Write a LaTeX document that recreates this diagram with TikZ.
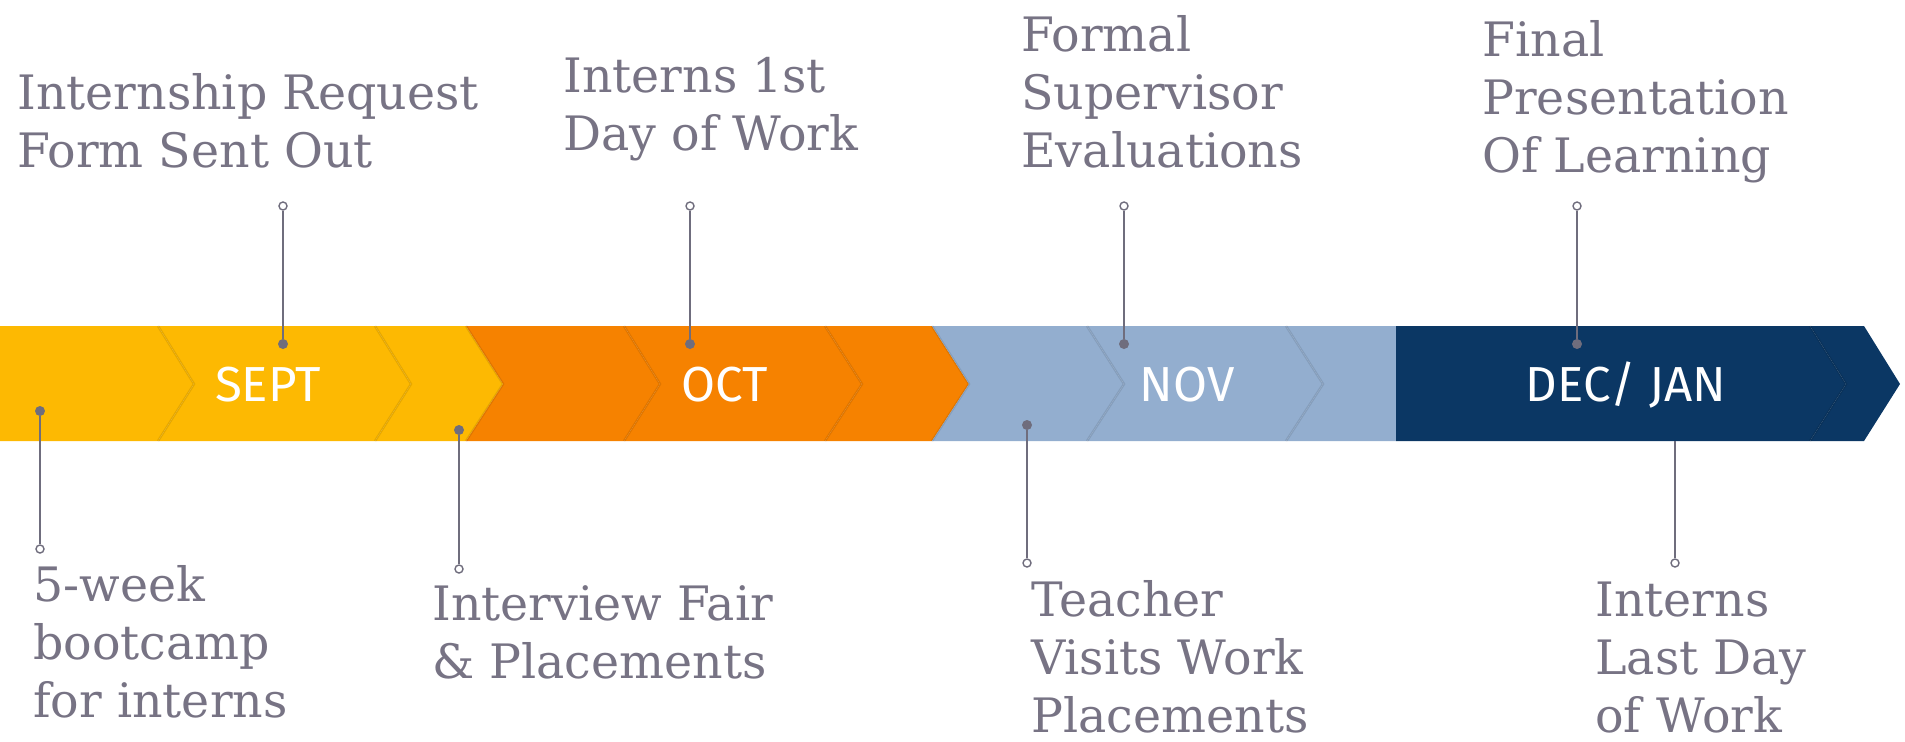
\documentclass[tikz,border=0pt]{standalone}
\usepackage{fontspec}
\setmainfont{DejaVu Serif}
\newfontfamily\monthfont{Fira Sans}
\usetikzlibrary{positioning}

\definecolor{gold}{HTML}{FDB902}
\definecolor{tangerine}{HTML}{F68200}
\definecolor{skyblue}{HTML}{93AECF}
\definecolor{navy}{HTML}{0B3764}
\definecolor{slate}{HTML}{777384}
\definecolor{pin}{HTML}{6F6D7D}

\tikzstyle{month} = [text=white,font=\monthfont\fontsize{28}{30}\selectfont,inner sep=0pt]
\tikzstyle{event} = [text=slate,font=\fontsize{27}{33}\selectfont,align=left,inner sep=0pt]
\tikzstyle{stem} = [draw=pin,line width=1.1pt]
\tikzstyle{dot} = [circle,fill=pin,inner sep=0pt,minimum size=0.2cm]
\tikzstyle{ring} = [circle,draw=pin,fill=white,line width=0.8pt,inner sep=0pt,minimum size=0.16cm]
\tikzstyle{notch} = [draw=black,draw opacity=0.09,line width=1.4pt]

\begin{document}
\begin{tikzpicture}[x=0.02cm,y=-0.02cm]
	\useasboundingbox (0,0) rectangle (1905,741);

	% yellow
	\fill[gold] (0,326) -- (158,326) -- (194,384) -- (158,441) -- (0,441) -- cycle;
	\fill[gold] (158,326) -- (375,326) -- (411,384) -- (375,441) -- (158,441) -- (194,384) -- cycle;
	\fill[gold] (375,326) -- (466,326) -- (503,384) -- (466,441) -- (375,441) -- (411,384) -- cycle;
	\draw[notch] (158,326) -- (194,384) -- (158,441);
	\draw[notch] (375,326) -- (411,384) -- (375,441);

	% orange
	\fill[tangerine] (466,326) -- (624,326) -- (660,384) -- (624,441) -- (466,441) -- (503,384) -- cycle;
	\fill[tangerine] (624,326) -- (825,326) -- (862,384) -- (825,441) -- (624,441) -- (660,384) -- cycle;
	\fill[tangerine] (825,326) -- (932,326) -- (969,384) -- (932,441) -- (825,441) -- (862,384) -- cycle;
	\draw[notch] (466,326) -- (503,384) -- (466,441);
	\draw[notch] (624,326) -- (660,384) -- (624,441);
	\draw[notch] (825,326) -- (862,384) -- (825,441);

	% light blue
	\fill[skyblue] (932,326) -- (1087,326) -- (1124,384) -- (1087,441) -- (932,441) -- (969,384) -- cycle;
	\fill[skyblue] (1087,326) -- (1286,326) -- (1323,384) -- (1286,441) -- (1087,441) -- (1124,384) -- cycle;
	\fill[skyblue] (1286,326) -- (1396,326) -- (1396,441) -- (1286,441) -- (1323,384) -- cycle;
	\draw[notch] (932,326) -- (969,384) -- (932,441);
	\draw[notch] (1087,326) -- (1124,384) -- (1087,441);
	\draw[notch] (1286,326) -- (1323,384) -- (1286,441);

	% navy
	\fill[navy] (1396,326) -- (1810,326) -- (1846,384) -- (1810,441) -- (1396,441) -- cycle;
	\fill[navy] (1810,326) -- (1864,326) -- (1900,384) -- (1864,441) -- (1810,441) -- (1846,384) -- cycle;
	\draw[notch] (1810,326) -- (1846,384) -- (1810,441);

	% months
	\node[month,anchor=base] (sept) at (268,401) {SEPT};
	\node[month,anchor=base] (oct) at (725,401) {OCT};
	\node[month,anchor=base] (nov) at (1187,401) {NOV};
	\node[month,anchor=base] (decjan) at (1626,401) {DEC/ JAN};

	% pins above
	\node[dot] (d2) at (283,344) {};
	\node[ring] (r2) at (283,206) {};
	\draw[stem] (d2) -- (r2);
	\node[dot] (d3) at (690,344) {};
	\node[ring] (r3) at (690,206) {};
	\draw[stem] (d3) -- (r3);
	\node[dot] (d5) at (1124,344) {};
	\node[ring] (r5) at (1124,206) {};
	\draw[stem] (d5) -- (r5);
	\node[dot] (d7) at (1577,344) {};
	\node[ring] (r7) at (1577,206) {};
	\draw[stem] (d7) -- (r7);

	% pins below
	\node[dot] (d1) at (40,411) {};
	\node[ring] (r1) at (40,549) {};
	\draw[stem] (d1) -- (r1);
	\node[dot] (d4) at (459,430) {};
	\node[ring] (r4) at (459,569) {};
	\draw[stem] (d4) -- (r4);
	\node[dot] (d6) at (1027,425) {};
	\node[ring] (r6) at (1027,563) {};
	\draw[stem] (d6) -- (r6);
	\coordinate (d8) at (1675,441);
	\node[ring] (r8) at (1675,563) {};
	\draw[stem] (d8) -- (r8);

	% labels (anchored at the baseline of the last line)
	\node[event,anchor=base west] (request) at (17,167) {Internship Request\\Form Sent Out};
	\node[event,anchor=base west] (firstday) at (563,150) {Interns 1st\\Day of Work};
	\node[event,anchor=base west] (evals) at (1021,167) {Formal\\Supervisor\\Evaluations};
	\node[event,anchor=base west] (final) at (1482,172) {Final\\Presentation\\Of Learning};
	\node[event,anchor=base west] (bootcamp) at (33,717) {5-week\\bootcamp\\for interns};
	\node[event,anchor=base west] (fair) at (432,678) {Interview Fair\\\& Placements};
	\node[event,anchor=base west] (visits) at (1031,732) {Teacher\\Visits Work\\Placements};
	\node[event,anchor=base west] (lastday) at (1595,732) {Interns\\Last Day\\of Work};
\end{tikzpicture}
\end{document}
